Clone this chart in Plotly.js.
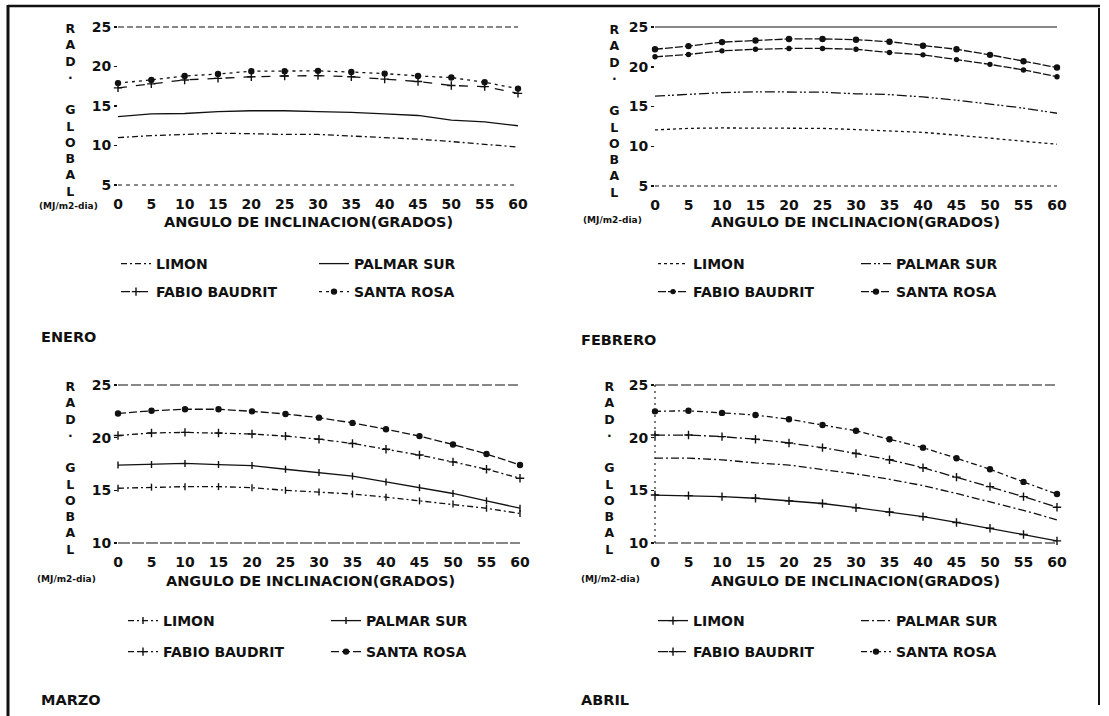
<!DOCTYPE html>
<html>
<head>
<meta charset="utf-8">
<script src="https://cdn.plot.ly/plotly-3.0.1.min.js"></script>
<style>html,body{margin:0;padding:0;background:#fff;}#chart{width:1109px;height:716px;}</style>
</head>
<body>
<div id="chart"></div>
<script>
// ---------------- DATA ----------------
const angles = [0, 5, 10, 15, 20, 25, 30, 35, 40, 45, 50, 55, 60];
const stations = ['LIMON', 'PALMAR SUR', 'FABIO BAUDRIT', 'SANTA ROSA'];
const months = ['ENERO', 'FEBRERO', 'MARZO', 'ABRIL'];
const yTicksTop = [5, 10, 15, 20, 25];
const yTicksBottom = [10, 15, 20, 25];
const yLetters = ['R', 'A', 'D', '·', '', 'G', 'L', 'O', 'B', 'A', 'L'];
const xTitle = 'ANGULO DE INCLINACION(GRADOS)';
const unitLabel = '(MJ/m2-dia)';

const eneroLimon      = [11.0, 11.25, 11.4, 11.55, 11.5, 11.4, 11.4, 11.2, 11.0, 10.8, 10.5, 10.15, 9.8];
const eneroPalmarSur  = [13.65, 14.0, 14.05, 14.3, 14.4, 14.4, 14.3, 14.2, 14.0, 13.8, 13.2, 13.0, 12.5];
const eneroFabio      = [17.3, 17.8, 18.3, 18.5, 18.7, 18.8, 18.85, 18.7, 18.4, 18.1, 17.6, 17.45, 16.6];
const eneroSantaRosa  = [17.9, 18.3, 18.8, 19.05, 19.4, 19.4, 19.45, 19.3, 19.1, 18.8, 18.6, 18.0, 17.2];

const febreroLimon     = [12.05, 12.25, 12.3, 12.3, 12.3, 12.25, 12.1, 11.9, 11.75, 11.4, 11.0, 10.65, 10.25];
const febreroPalmarSur = [16.3, 16.55, 16.75, 16.85, 16.85, 16.8, 16.6, 16.5, 16.2, 15.8, 15.3, 14.8, 14.15];
const febreroFabio     = [21.25, 21.55, 22.0, 22.2, 22.3, 22.3, 22.2, 21.8, 21.5, 20.9, 20.3, 19.6, 18.75];
const febreroSantaRosa = [22.2, 22.6, 23.1, 23.3, 23.5, 23.5, 23.4, 23.15, 22.65, 22.2, 21.5, 20.7, 19.9];

const marzoLimon     = [15.2, 15.3, 15.35, 15.35, 15.25, 15.0, 14.85, 14.65, 14.35, 14.0, 13.7, 13.3, 12.8];
const marzoPalmarSur = [17.4, 17.45, 17.55, 17.45, 17.35, 17.0, 16.7, 16.35, 15.8, 15.25, 14.7, 14.0, 13.3];
const marzoFabio     = [20.2, 20.45, 20.5, 20.45, 20.35, 20.15, 19.85, 19.45, 18.9, 18.35, 17.7, 17.0, 16.15];
const marzoSantaRosa = [22.3, 22.55, 22.7, 22.7, 22.5, 22.25, 21.9, 21.4, 20.8, 20.15, 19.35, 18.45, 17.4];

const abrilLimon     = [14.55, 14.5, 14.4, 14.25, 14.0, 13.75, 13.35, 12.95, 12.5, 11.95, 11.4, 10.8, 10.2];
const abrilPalmarSur = [18.05, 18.05, 17.9, 17.6, 17.4, 17.0, 16.55, 16.05, 15.45, 14.7, 13.9, 13.1, 12.2];
const abrilFabio     = [20.25, 20.25, 20.1, 19.85, 19.5, 19.05, 18.5, 17.9, 17.15, 16.25, 15.35, 14.4, 13.4];
const abrilSantaRosa = [22.5, 22.55, 22.35, 22.15, 21.75, 21.2, 20.65, 19.85, 19.05, 18.05, 17.0, 15.8, 14.65];

// ---------------- LAYOUT HELPERS ----------------
const W = 1109, H = 716;
const px = x => x / W;
const py = y => 1 - y / H;
const FONT = 'DejaVu Sans';
const INK = '#111';

const panels = [
  { series: [eneroLimon, eneroPalmarSur, eneroFabio, eneroSantaRosa], yr: [5, 25], yt: yTicksTop,
    x0: 118, x1: 518, ytop: 27, ybot: 185, letterX: 70, unitX: 68, unitY: 206, titleX: 308, titleY: 222,
    legX: 158, legDX: 195, legY1: 264, legY2: 292, monthX: 39, monthY: 337,
    styles: [
      { dash: '6px,3px,2px,3px' },
      { dash: 'solid' },
      { dash: 'dash', marker: 'cross-thin' },
      { dash: '3px,4px', marker: 'circle' }
    ], topDash: '6px,3px', botDash: '4px,4px', leftDash: null },
  { series: [febreroLimon, febreroPalmarSur, febreroFabio, febreroSantaRosa], yr: [5, 25], yt: yTicksTop,
    x0: 655, x1: 1057, ytop: 27, ybot: 186, letterX: 614, unitX: 612, unitY: 220, titleX: 855, titleY: 222,
    legX: 695, legDX: 200, legY1: 264, legY2: 292, monthX: 579, monthY: 340,
    styles: [
      { dash: 'dot' },
      { dash: '10px,3px,2px,2px,2px,3px' },
      { dash: '8px,2px', marker: 'circle-s' },
      { dash: '8px,2px', marker: 'circle' }
    ], topDash: 'solid', botDash: '4px,3px', leftDash: null },
  { series: [marzoLimon, marzoPalmarSur, marzoFabio, marzoSantaRosa], yr: [10, 25], yt: yTicksBottom,
    x0: 118, x1: 520, ytop: 385, ybot: 543, letterX: 70, unitX: 66, unitY: 579, titleX: 310, titleY: 581,
    legX: 165, legDX: 200, legY1: 621, legY2: 652, monthX: 39, monthY: 700,
    styles: [
      { dash: '6px,3px,2px,3px', marker: 'line-ns' },
      { dash: 'solid', marker: 'line-ns' },
      { dash: '6px,3px,2px,3px', marker: 'cross-thin' },
      { dash: '8px,3px', marker: 'circle' }
    ], topDash: '10px,3px', botDash: '12px,2px', leftDash: null },
  { series: [abrilLimon, abrilPalmarSur, abrilFabio, abrilSantaRosa], yr: [10, 25], yt: yTicksBottom,
    x0: 655, x1: 1057, ytop: 385, ybot: 543, letterX: 609, unitX: 610, unitY: 579, titleX: 855, titleY: 581,
    legX: 695, legDX: 200, legY1: 621, legY2: 652, monthX: 579, monthY: 700,
    styles: [
      { dash: 'solid', marker: 'cross-thin' },
      { dash: '8px,3px,2px,3px' },
      { dash: '10px,3px,2px,3px', marker: 'cross-thin' },
      { dash: '6px,3px,2px,3px', marker: 'circle' }
    ], topDash: '10px,3px', botDash: '10px,3px', leftDash: '2px,4px' }
];

const traces = [];
const layout = {
  width: W, height: H,
  margin: { l: 0, r: 0, t: 0, b: 0 },
  paper_bgcolor: '#fff', plot_bgcolor: '#fff',
  showlegend: true,
  font: { family: FONT, color: INK },
  annotations: [], shapes: []
};

panels.forEach((p, i) => {
  const k = i + 1;
  const xa = k === 1 ? 'x' : 'x' + k;
  const ya = k === 1 ? 'y' : 'y' + k;
  const xKey = k === 1 ? 'xaxis' : 'xaxis' + k;
  const yKey = k === 1 ? 'yaxis' : 'yaxis' + k;
  const leg1 = (2 * i + 1) === 1 ? 'legend' : 'legend' + (2 * i + 1);
  const leg2 = 'legend' + (2 * i + 2);

  layout[xKey] = {
    domain: [px(p.x0), px(p.x1)], range: [0, 60], anchor: ya,
    tickvals: angles, ticktext: angles.map(String),
    showgrid: false, zeroline: false, showline: false, ticks: '',
    ticklabelstandoff: 9,
    tickfont: { family: FONT, size: 14, weight: 'bold', color: INK },
    fixedrange: true
  };
  layout[yKey] = {
    domain: [py(p.ybot), py(p.ytop)], range: p.yr, anchor: xa,
    tickvals: p.yt, ticktext: p.yt.map(String),
    showgrid: false, zeroline: false, showline: false,
    ticks: 'outside', ticklen: 3, tickwidth: 1.5, tickcolor: INK,
    tickfont: { family: FONT, size: 14, weight: 'bold', color: INK },
    fixedrange: true
  };

  p.series.forEach((vals, j) => {
    const st = p.styles[j];
    const t = {
      type: 'scatter', x: angles, y: vals, xaxis: xa, yaxis: ya,
      name: stations[j], legend: j < 2 ? leg1 : leg2,
      mode: st.marker ? 'lines+markers' : 'lines',
      line: { color: INK, width: 1.3, dash: st.dash },
      cliponaxis: false, hoverinfo: 'skip'
    };
    if (st.marker) {
      let sym = st.marker, size = 5;
      if (sym === 'circle-s') { sym = 'circle'; size = 4; }
      if (sym === 'cross-thin') size = 6;
      if (sym === 'line-ns') size = 5;
      t.marker = { symbol: sym, size: size, color: INK, line: { color: INK, width: 1.4 } };
    }
    traces.push(t);
  });

  [[leg1, p.legY1], [leg2, p.legY2]].forEach(([lk, yy]) => {
    layout[lk] = {
      x: px(p.legX - 42), y: py(yy), xanchor: 'left', yanchor: 'middle',
      orientation: 'h', entrywidth: p.legDX - 42, entrywidthmode: 'pixels',
      itemwidth: 30, bgcolor: 'rgba(0,0,0,0)', borderwidth: 0,
      font: { family: FONT, size: 14, weight: 'bold', color: INK },
      itemclick: false, itemdoubleclick: false
    };
  });

  // frame lines of plotting area
  layout.shapes.push({ type: 'line', xref: xa + ' domain', yref: ya + ' domain', x0: 0, x1: 1, y0: 1, y1: 1,
    line: { color: INK, width: 1.2, dash: p.topDash } });
  layout.shapes.push({ type: 'line', xref: xa + ' domain', yref: ya + ' domain', x0: 0, x1: 1, y0: 0, y1: 0,
    line: { color: INK, width: 1.1, dash: p.botDash } });
  if (p.leftDash) {
    layout.shapes.push({ type: 'line', xref: xa + ' domain', yref: ya + ' domain', x0: 0, x1: 0, y0: 0, y1: 1,
      line: { color: INK, width: 1.1, dash: p.leftDash } });
  }

  // vertical axis label
  layout.annotations.push({
    xref: 'paper', yref: 'paper', x: px(p.letterX), y: py((p.ytop + p.ybot) / 2 + 4),
    xanchor: 'center', yanchor: 'middle', showarrow: false, align: 'center',
    text: yLetters.join('<br>'),
    font: { family: FONT, size: 12.5, weight: 'bold', color: INK }
  });
  // unit label
  layout.annotations.push({
    xref: 'paper', yref: 'paper', x: px(p.unitX), y: py(p.unitY),
    xanchor: 'center', yanchor: 'middle', showarrow: false,
    text: unitLabel, font: { family: FONT, size: 9, weight: 'bold', color: INK }
  });
  // x axis title
  layout.annotations.push({
    xref: 'paper', yref: 'paper', x: px(p.titleX), y: py(p.titleY),
    xanchor: 'center', yanchor: 'middle', showarrow: false,
    text: xTitle, font: { family: FONT, size: 14.5, weight: 'bold', color: INK }
  });
  // month label
  layout.annotations.push({
    xref: 'paper', yref: 'paper', x: px(p.monthX), y: py(p.monthY),
    xanchor: 'left', yanchor: 'middle', showarrow: false,
    text: months[i], font: { family: FONT, size: 14.5, weight: 'bold', color: INK }
  });
});

// document frame
layout.shapes.push({ type: 'line', xref: 'paper', yref: 'paper', x0: px(8), x1: px(8), y0: py(5), y1: py(716), line: { color: INK, width: 3 } });
layout.shapes.push({ type: 'line', xref: 'paper', yref: 'paper', x0: px(8), x1: px(1100), y0: py(6), y1: py(6), line: { color: INK, width: 2.5 } });
layout.shapes.push({ type: 'line', xref: 'paper', yref: 'paper', x0: px(1099), x1: px(1099), y0: py(8), y1: py(705), line: { color: INK, width: 2 } });

Plotly.newPlot('chart', traces, layout, { displayModeBar: false, staticPlot: true });
</script>
</body>
</html>
